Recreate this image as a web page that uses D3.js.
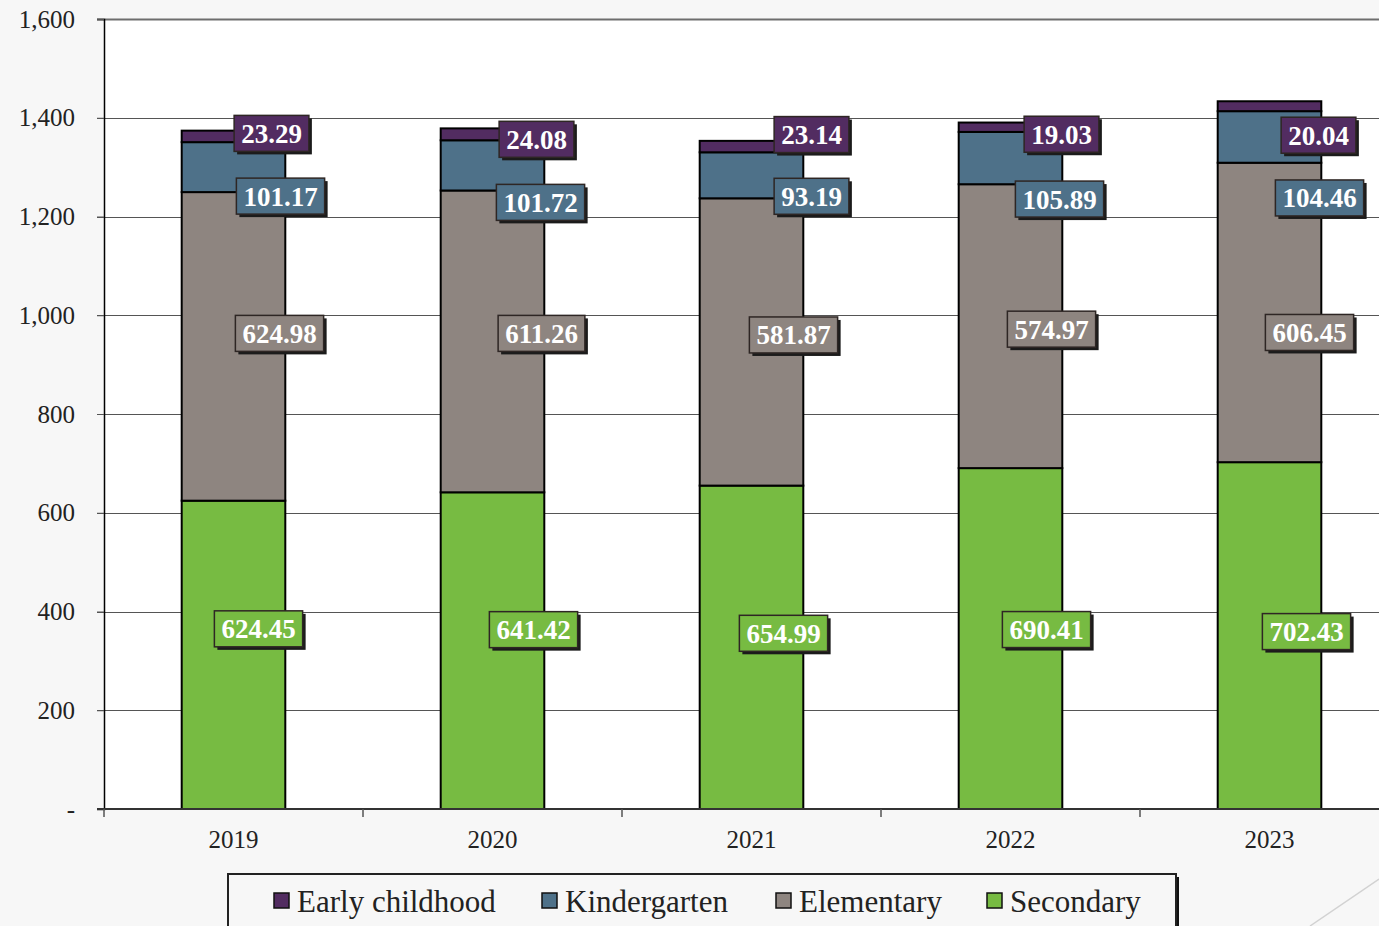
<!DOCTYPE html>
<html>
<head>
<meta charset="utf-8">
<script src="https://cdn.jsdelivr.net/npm/d3@7"></script>
<style>
  html, body { margin: 0; padding: 0; background: #f7f7f7; }
  svg { display: block; }
  text { font-family: "Liberation Serif", "Times New Roman", serif; }
</style>
</head>
<body>
<svg id="chart" width="1379" height="926"></svg>
<script>
// Enrolment by level, 2019–2023
const years = ["2019", "2020", "2021", "2022", "2023"];
const seriesNames = ["Secondary", "Elementary", "Kindergarten", "Early childhood"];
const secondary     = [624.45, 641.42, 654.99, 690.41, 702.43];
const elementary    = [624.98, 611.26, 581.87, 574.97, 606.45];
const kindergarten  = [101.17, 101.72, 93.19, 105.89, 104.46];
const earlyChildhood = [23.29, 24.08, 23.14, 19.03, 20.04];
const yTicks = [0, 200, 400, 600, 800, 1000, 1200, 1400, 1600];
const legendOrder = ["Early childhood", "Kindergarten", "Elementary", "Secondary"];

// Styling
const colors = {
  "Early childhood": "#522c61",
  "Kindergarten": "#4e7189",
  "Elementary": "#8e8580",
  "Secondary": "#77bb42"
};
// Hand-placed label offsets (px) from each segment's centre: [dx, dy]
const labelOffsets = {
  "Secondary":       [[25, -26], [41, -21], [32, -14], [36, -9], [37, -4]],
  "Elementary":      [[46, -13], [49, -8], [42, -7], [41, 3], [40, 20]],
  "Kindergarten":    [[47, 29], [48, 37], [60, 21], [49, 41], [50, 61]],
  "Early childhood": [[38, -3], [44, 5], [60, -12], [51, 7], [49, 29]]
};

const valuesBySeries = {
  "Secondary": secondary,
  "Elementary": elementary,
  "Kindergarten": kindergarten,
  "Early childhood": earlyChildhood
};

const rows = years.map((yr, i) => {
  const r = { year: yr };
  seriesNames.forEach(s => r[s] = valuesBySeries[s][i]);
  return r;
});
const stacked = d3.stack().keys(seriesNames)(rows);

const svg = d3.select("#chart");
const plot = { left: 104, right: 1399, top: 19, bottom: 809 };

const x = d3.scaleBand().domain(years).range([plot.left, plot.right]).padding(0);
const y = d3.scaleLinear().domain([0, 1600]).range([plot.bottom, plot.top]);
const barW = x.bandwidth() * 0.4;
const barX = yr => x(yr) + (x.bandwidth() - barW) / 2;

// Plot area
svg.append("rect")
  .attr("x", plot.left).attr("y", plot.top)
  .attr("width", plot.right - plot.left).attr("height", plot.bottom - plot.top)
  .attr("fill", "#ffffff");

// Gridlines
svg.append("g").selectAll("line")
  .data(yTicks.filter(d => d > 0))
  .join("line")
  .attr("x1", plot.left - 7).attr("x2", plot.right)
  .attr("y1", d => Math.round(y(d)) + 0.5).attr("y2", d => Math.round(y(d)) + 0.5)
  .attr("stroke", d => d === 1600 ? "#6e6e6e" : "#555")
  .attr("stroke-width", d => d === 1600 ? 2 : 1);

// Y axis
const yAxis = svg.append("g")
  .attr("transform", `translate(${plot.left},0)`)
  .call(d3.axisLeft(y).tickValues(yTicks).tickSize(7).tickPadding(22)
    .tickFormat(d => d === 0 ? "-" : d3.format(",")(d)));
yAxis.attr("font-family", null);
yAxis.select(".domain").attr("stroke", "#000").attr("stroke-width", 1.5);
yAxis.selectAll(".tick line").attr("stroke", "#555");
yAxis.selectAll(".tick text")
  .attr("font-size", 25).attr("fill", "#222");

// Bars
const barG = svg.append("g");
stacked.forEach(layer => {
  barG.append("g").selectAll("rect")
    .data(layer)
    .join("rect")
    .attr("x", d => barX(d.data.year))
    .attr("width", barW)
    .attr("y", d => y(d[1]))
    .attr("height", d => y(d[0]) - y(d[1]))
    .attr("fill", colors[layer.key])
    .attr("stroke", "#000")
    .attr("stroke-width", 2);
});

// X axis
svg.append("line")
  .attr("x1", plot.left - 7).attr("x2", plot.right)
  .attr("y1", plot.bottom).attr("y2", plot.bottom)
  .attr("stroke", "#333").attr("stroke-width", 2);
const boundaries = years.map(yr => x(yr)).concat([x(years[years.length - 1]) + x.bandwidth()]);
svg.append("g").selectAll("line")
  .data(boundaries)
  .join("line")
  .attr("x1", d => d).attr("x2", d => d)
  .attr("y1", plot.bottom).attr("y2", plot.bottom + 8)
  .attr("stroke", "#555").attr("stroke-width", 1.5);
svg.append("g").selectAll("text")
  .data(years)
  .join("text")
  .attr("x", d => x(d) + x.bandwidth() / 2)
  .attr("y", 848)
  .attr("text-anchor", "middle")
  .attr("font-size", 25)
  .attr("fill", "#222")
  .text(d => d);

// Data labels
const labelG = svg.append("g");
stacked.forEach(layer => {
  layer.forEach((d, i) => {
    const val = valuesBySeries[layer.key][i];
    const txt = val.toFixed(2);
    const [dx, dy] = labelOffsets[layer.key][i];
    const cx = barX(d.data.year) + barW / 2 + dx;
    const cy = (y(d[0]) + y(d[1])) / 2 + dy;
    const g = labelG.append("g").attr("transform", `translate(${cx},${cy})`);
    const t = g.append("text")
      .attr("text-anchor", "middle")
      .attr("dy", "0.35em")
      .attr("font-size", 27)
      .attr("font-weight", "bold")
      .attr("fill", "#ffffff")
      .text(txt);
    const w = t.node().getComputedTextLength() + 14;
    const h = 36;
    g.insert("rect", "text")
      .attr("x", -w / 2 + 3).attr("y", -h / 2 + 3)
      .attr("width", w).attr("height", h)
      .attr("fill", "#1b1b1b");
    g.insert("rect", "text")
      .attr("x", -w / 2).attr("y", -h / 2)
      .attr("width", w).attr("height", h)
      .attr("fill", colors[layer.key])
      .attr("stroke", "#2e2624")
      .attr("stroke-width", 1.5);
  });
});

// Legend
const legend = svg.append("g");
legend.append("rect")
  .attr("x", 231).attr("y", 877).attr("width", 948).attr("height", 80)
  .attr("fill", "#111");
legend.append("rect")
  .attr("x", 228).attr("y", 874).attr("width", 948).attr("height", 80)
  .attr("fill", "#f7f7f7").attr("stroke", "#222").attr("stroke-width", 2);
const legendX = [274, 542, 776, 987];
legendOrder.forEach((name, i) => {
  legend.append("rect")
    .attr("x", legendX[i]).attr("y", 893)
    .attr("width", 15).attr("height", 15)
    .attr("fill", colors[name]).attr("stroke", "#111").attr("stroke-width", 1.5);
  legend.append("text")
    .attr("x", legendX[i] + 23).attr("y", 912)
    .attr("font-size", 31).attr("fill", "#222")
    .text(name);
});

// Corner decoration
svg.append("line")
  .attr("x1", 1310).attr("y1", 926).attr("x2", 1379).attr("y2", 879)
  .attr("stroke", "#d2d2d2").attr("stroke-width", 1.5);
</script>
</body>
</html>
